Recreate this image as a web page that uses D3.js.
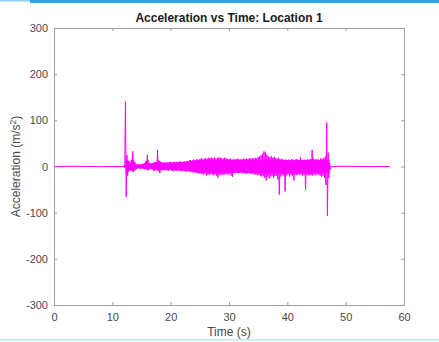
<!DOCTYPE html>
<html><head><meta charset="utf-8">
<script src="https://cdn.jsdelivr.net/npm/d3@7"></script>
<style>body{margin:0;background:#fff}svg{display:block}</style>
</head><body>
<script>
// ---- data ----
const xTicks = [0,10,20,30,40,50,60];
const yTicks = [-300,-200,-100,0,100,200,300];
const title = "Acceleration vs Time: Location 1";
const xLabel = "Time (s)";
// quiet segments (time s, accel m/s^2)
const quietBefore = [[0,0],[4,0.3],[8,-0.3],[12,0]];
const quietAfter = [[47.5,0],[50,0.4],[54,-0.3],[57.5,0]];
// active segment, 0.25 s bins starting at 12.0 s: peak high / low per bin
const binStart = 12.0, binStep = 0.25;
const binHi = [
 3,141,25,12,  8,15,33,10,  5,4,5,4,  5,6,7,12,  25,8,6,7,  8,9,10,36,
 12,10,8,9,  8,9,7,10,  9,8,10,9,  10,9,11,10,  9,11,10,12,  11,14,12,13,
 15,13,16,14,  16,18,15,17,  18,17,19,18,  19,18,20,17,  18,20,19,18,  17,19,18,16,
 16,17,15,16,  15,16,17,15,  16,15,17,16,  17,16,18,17,  18,17,19,18,  20,22,24,28,
 33,30,26,22,  20,22,19,21,  18,17,19,16,  15,16,14,15,  14,15,13,16,  15,14,16,15,
 14,20,15,14,  15,14,16,15,  16,36,17,15,  15,16,14,18,  16,18,22,95,  30,8];
const binLo = [
 -3,-66,-20,-10,  -8,-10,-12,-8,  -5,-4,-4,-5,  -4,-5,-6,-6,  -8,-6,-5,-6,  -10,-7,-8,-9,
 -14,-8,-7,-8,  -7,-8,-9,-7,  -8,-10,-8,-9,  -9,-8,-10,-9,  -10,-9,-11,-10,  -10,-12,-11,-13,
 -12,-14,-13,-15,  -14,-16,-18,-15,  -20,-17,-18,-16,  -18,-19,-17,-20,  -24,-18,-19,-17,  -18,-17,-16,-18,
 -15,-20,-22,-14,  -14,-13,-15,-14,  -13,-15,-14,-16,  -15,-14,-16,-15,  -16,-18,-17,-19,  -18,-20,-22,-20,
 -24,-30,-22,-26,  -22,-20,-25,-21,  -20,-28,-61,-22,  -18,-20,-54,-19,  -17,-22,-18,-20,  -30,-18,-19,-17,
 -18,-17,-20,-18,  -50,-19,-18,-20,  -18,-20,-17,-19,  -17,-18,-20,-22,  -20,-25,-40,-107,  -25,-6];

// ---- layout ----
const W = 439, H = 342;
const L = 54, R = 404, T = 28, B = 305;
const axisCol = "#a0a0a0", textCol = "#4a4a4a";
const font = "'Liberation Sans', Arial, Helvetica, sans-serif";
const mag = "#ff00ff";

const svg = d3.select("body").append("svg").attr("width", W).attr("height", H);

// window decorations
svg.append("rect").attr("x",0).attr("y",0).attr("width",30).attr("height",1.5).attr("fill","#8fd0f7");
svg.append("rect").attr("x",30).attr("y",0).attr("width",W-30).attr("height",3).attr("fill","#2ba4f0");
svg.append("rect").attr("x",0).attr("y",339).attr("width",W).attr("height",1.5).attr("fill","#c5e6fa");

const x = d3.scaleLinear().domain([0,60]).range([L,R]);
const y = d3.scaleLinear().domain([-300,300]).range([B,T]);

// signal points
const bins = binHi.map((h,i) => ({t: binStart + i*binStep, hi: h, lo: binLo[i]}));
const pts = [];
quietBefore.forEach(p => pts.push(p));
bins.forEach(b => { pts.push([b.t, b.hi]); pts.push([b.t + binStep/2, b.lo]); });
quietAfter.forEach(p => pts.push(p));

svg.append("clipPath").attr("id","c").append("rect")
  .attr("x",L).attr("y",T).attr("width",R-L).attr("height",B-T);

// dense band envelope
svg.append("path").datum(bins)
  .attr("clip-path","url(#c)")
  .attr("fill",mag).attr("opacity",0.9)
  .attr("d", d3.area().curve(d3.curveStepAfter)
    .x(d=>x(d.t)).y0(d=>y(Math.max(d.lo,-14))).y1(d=>y(Math.min(d.hi,14))));

svg.append("path").datum(pts)
  .attr("clip-path","url(#c)")
  .attr("fill","none").attr("stroke",mag).attr("stroke-width",1)
  .attr("d", d3.line().x(d=>x(d[0])).y(d=>y(d[1])));

// axes (MATLAB box style, inward ticks)
const fmt = d => String(d);
function styleAxis(g){
  g.selectAll("path.domain").attr("stroke",axisCol);
  g.selectAll(".tick line").attr("stroke",axisCol);
  g.selectAll("text").attr("fill",textCol).style("font-family",font).style("font-size","11px");
}
svg.append("g").attr("transform",`translate(0,${B})`)
  .call(d3.axisBottom(x).tickValues(xTicks).tickFormat(fmt).tickSizeInner(-3).tickSizeOuter(0).tickPadding(8))
  .call(styleAxis);
svg.append("g").attr("transform",`translate(0,${T})`)
  .call(d3.axisTop(x).tickValues(xTicks).tickSizeInner(-3).tickSizeOuter(0).tickFormat(""))
  .call(styleAxis);
svg.append("g").attr("transform",`translate(${L},0)`)
  .call(d3.axisLeft(y).tickValues(yTicks).tickFormat(fmt).tickSizeInner(-3).tickSizeOuter(0).tickPadding(6))
  .call(styleAxis);
svg.append("g").attr("transform",`translate(${R},0)`)
  .call(d3.axisRight(y).tickValues(yTicks).tickSizeInner(-3).tickSizeOuter(0).tickFormat(""))
  .call(styleAxis);

// title
svg.append("text").attr("x",(L+R)/2).attr("y",22).attr("text-anchor","middle")
  .style("font-family",font).style("font-size","12px").style("font-weight","bold")
  .attr("fill","#1a1a1a").text(title);

// x label
svg.append("text").attr("x",(L+R)/2).attr("y",336).attr("text-anchor","middle")
  .style("font-family",font).style("font-size","12px").attr("fill",textCol).text(xLabel);

// y label with superscript
const yl = svg.append("text").attr("transform",`translate(20,${(T+B)/2}) rotate(-90)`)
  .attr("text-anchor","middle")
  .style("font-family",font).style("font-size","12px").attr("fill",textCol);
yl.append("tspan").text("Acceleration (m/s");
yl.append("tspan").attr("dy",-4).style("font-size","8.5px").text("2");
yl.append("tspan").attr("dy",4).text(")");
</script>
</body></html>
